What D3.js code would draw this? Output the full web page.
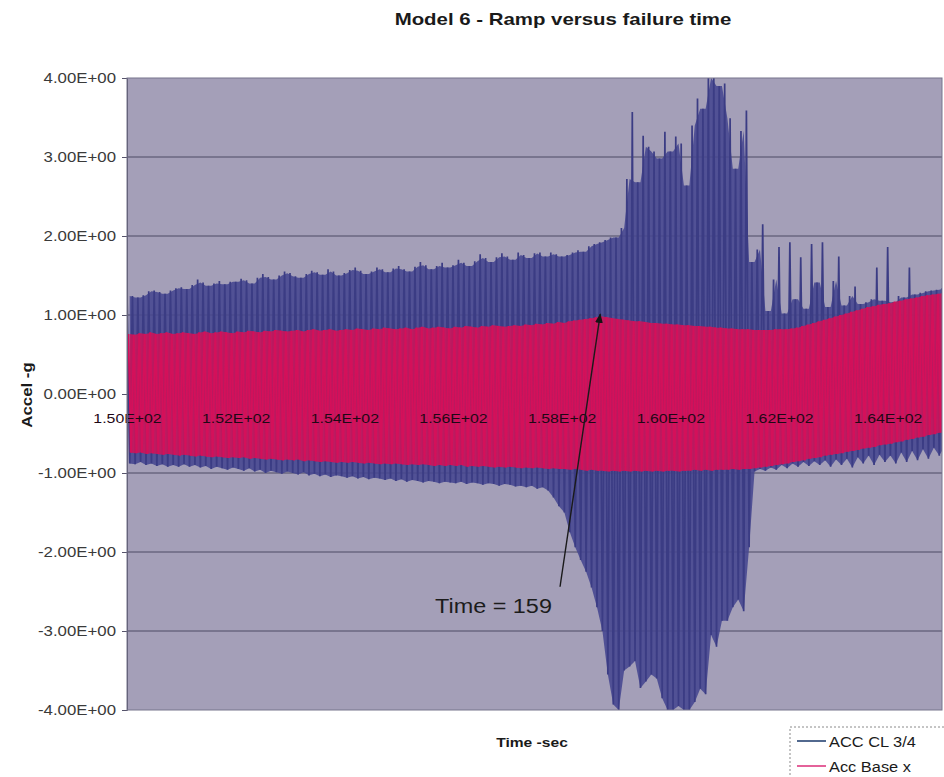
<!DOCTYPE html>
<html>
<head>
<meta charset="utf-8">
<script src="https://cdn.jsdelivr.net/npm/d3@7"></script>
<style>
    body { margin: 0; background: #fff; }
    svg { display: block; font-family: Arial, "Liberation Sans", sans-serif; }
    .x-label { fill: #1e0816; }
</style>
</head>
<body>
<svg id="chart" width="944" height="777"></svg>
<script>
// sampling grid of the recording (sec)
const t0 = 150;
const dt = 0.1;

// ACC CL 3/4 - positive and negative peak of each sample step (g)
const blueHi = [
    1.28, 1.24, 1.22, 1.25, 1.30, 1.31, 1.29, 1.27, 1.31, 1.34,
    1.35, 1.33, 1.38, 1.45, 1.41, 1.37, 1.40, 1.43, 1.39, 1.42,
    1.42, 1.46, 1.44, 1.40, 1.47, 1.52, 1.48, 1.45, 1.50, 1.55,
    1.53, 1.49, 1.47, 1.52, 1.56, 1.54, 1.51, 1.58, 1.55, 1.50,
    1.53, 1.57, 1.60, 1.56, 1.52, 1.55, 1.60, 1.58, 1.54, 1.59,
    1.62, 1.58, 1.55, 1.61, 1.67, 1.63, 1.58, 1.62, 1.66, 1.60,
    1.63, 1.70, 1.66, 1.62, 1.68, 1.77, 1.72, 1.67, 1.73, 1.78,
    1.74, 1.70, 1.79, 1.76, 1.72, 1.78, 1.79, 1.74, 1.79, 1.77,
    1.74, 1.76, 1.79, 1.82, 1.80, 1.87, 1.90, 1.92, 1.95, 1.98,
    1.98, 2.10, 2.72, 3.57, 2.68, 3.27, 3.13, 3.07, 2.98, 3.32,
    3.07, 3.26, 3.17, 2.64, 3.40, 3.74, 3.61, 4.00, 4.00, 3.90,
    3.93, 3.49, 2.85, 3.33, 3.59, 1.67, 1.83, 2.15, 1.05, 1.45,
    1.86, 1.02, 1.92, 1.20, 1.73, 1.08, 1.90, 1.41, 1.92, 1.10,
    1.43, 1.74, 1.12, 1.24, 1.36, 1.14, 1.16, 1.20, 1.60, 1.18,
    1.86, 1.16, 1.24, 1.22, 1.60, 1.26, 1.28, 1.30, 1.31, 1.32, 1.34
];
const blueLo = [
    -0.88, -0.89, -0.86, -0.90, -0.88, -0.91, -0.89, -0.92, -0.90, -0.92,
    -0.89, -0.92, -0.90, -0.93, -0.91, -0.95, -0.92, -0.94, -0.96, -0.93,
    -0.95, -0.97, -0.94, -0.98, -0.96, -1.00, -0.97, -0.99, -1.01, -0.98,
    -1.00, -1.02, -0.99, -1.03, -1.01, -1.04, -1.02, -1.05, -1.03, -1.04,
    -1.06, -1.04, -1.07, -1.05, -1.08, -1.06, -1.07, -1.09, -1.07, -1.10,
    -1.08, -1.11, -1.09, -1.10, -1.12, -1.10, -1.11, -1.13, -1.11, -1.12,
    -1.13, -1.11, -1.14, -1.12, -1.13, -1.15, -1.13, -1.14, -1.16, -1.14,
    -1.15, -1.17, -1.16, -1.18, -1.16, -1.20, -1.18, -1.22, -1.31, -1.42,
    -1.50, -1.75, -1.94, -2.10, -2.25, -2.45, -2.70, -3.00, -3.55, -3.93,
    -4.00, -3.50, -3.45, -3.38, -3.72, -3.64, -3.55, -3.60, -3.85, -4.00,
    -4.00, -3.95, -4.00, -4.00, -3.90, -3.73, -3.80, -3.05, -3.20, -2.87,
    -2.87, -2.70, -2.60, -2.75, -1.94, -0.98, -0.95, -0.97, -0.93, -0.96,
    -0.90, -0.94, -0.88, -0.92, -0.86, -0.91, -0.85, -0.90, -0.84, -0.92,
    -0.83, -0.90, -0.82, -0.93, -0.80, -0.88, -0.78, -0.90, -0.77, -0.86,
    -0.78, -0.88, -0.74, -0.86, -0.72, -0.84, -0.70, -0.82, -0.68, -0.78, -0.66
];

// Acc Base x - positive and negative peak of each sample step (g)
const pinkHi = [
    0.76, 0.75, 0.77, 0.76, 0.78, 0.76, 0.77, 0.78, 0.76, 0.77,
    0.78, 0.77, 0.76, 0.78, 0.79, 0.77, 0.78, 0.79, 0.78, 0.77,
    0.79, 0.78, 0.80, 0.79, 0.78, 0.80, 0.79, 0.81, 0.80, 0.79,
    0.80, 0.81, 0.79, 0.81, 0.82, 0.80, 0.81, 0.82, 0.80, 0.81,
    0.82, 0.81, 0.83, 0.82, 0.81, 0.83, 0.82, 0.84, 0.83, 0.82,
    0.83, 0.84, 0.82, 0.84, 0.85, 0.83, 0.84, 0.85, 0.84, 0.83,
    0.85, 0.84, 0.86, 0.85, 0.84, 0.86, 0.85, 0.87, 0.86, 0.85,
    0.86, 0.87, 0.86, 0.88, 0.87, 0.89, 0.88, 0.90, 0.89, 0.91,
    0.90, 0.92, 0.93, 0.94, 0.95, 0.96, 0.97, 0.98, 0.97, 0.96,
    0.95, 0.94, 0.93, 0.92, 0.92, 0.91, 0.90, 0.90, 0.89, 0.89,
    0.88, 0.88, 0.87, 0.87, 0.86, 0.86, 0.85, 0.85, 0.84, 0.84,
    0.83, 0.83, 0.82, 0.82, 0.82, 0.81, 0.81, 0.81, 0.81, 0.82,
    0.82, 0.82, 0.83, 0.84, 0.86, 0.88, 0.90, 0.92, 0.94, 0.96,
    0.98, 1.00, 1.02, 1.04, 1.06, 1.08, 1.10, 1.11, 1.13, 1.14,
    1.15, 1.17, 1.18, 1.20, 1.21, 1.22, 1.24, 1.25, 1.26, 1.27, 1.28
];
const pinkLo = [
    -0.74, -0.75, -0.74, -0.76, -0.75, -0.76, -0.77, -0.76, -0.77, -0.78,
    -0.77, -0.78, -0.79, -0.78, -0.79, -0.80, -0.79, -0.80, -0.81, -0.80,
    -0.81, -0.80, -0.82, -0.81, -0.82, -0.83, -0.82, -0.83, -0.84, -0.83,
    -0.84, -0.83, -0.85, -0.84, -0.85, -0.86, -0.85, -0.86, -0.87, -0.86,
    -0.87, -0.86, -0.87, -0.88, -0.87, -0.88, -0.89, -0.88, -0.89, -0.88,
    -0.89, -0.90, -0.89, -0.90, -0.89, -0.90, -0.91, -0.90, -0.91, -0.90,
    -0.91, -0.90, -0.92, -0.91, -0.92, -0.91, -0.92, -0.93, -0.92, -0.93,
    -0.92, -0.93, -0.94, -0.93, -0.94, -0.93, -0.94, -0.95, -0.94, -0.95,
    -0.95, -0.96, -0.95, -0.96, -0.97, -0.96, -0.97, -0.97, -0.98, -0.97,
    -0.98, -0.97, -0.98, -0.97, -0.98, -0.97, -0.98, -0.97, -0.98, -0.97,
    -0.97, -0.98, -0.97, -0.97, -0.96, -0.97, -0.96, -0.97, -0.96, -0.96,
    -0.96, -0.95, -0.96, -0.95, -0.95, -0.94, -0.93, -0.92, -0.91, -0.90,
    -0.89, -0.88, -0.86, -0.85, -0.84, -0.82, -0.81, -0.80, -0.78, -0.77,
    -0.76, -0.75, -0.73, -0.72, -0.71, -0.69, -0.68, -0.67, -0.65, -0.64,
    -0.63, -0.61, -0.60, -0.58, -0.57, -0.55, -0.54, -0.52, -0.51, -0.49, -0.48
];

const xTicks = [150, 152, 154, 156, 158, 160, 162, 164];
const yTicks = [-4, -3, -2, -1, 0, 1, 2, 3, 4];
const seriesNames = ["ACC CL 3/4", "Acc Base x"];

// annotation in data units: [time, accel]
const note = {label: "Time = 159", at: [155.67, -2.77], from: [157.97, -2.44], to: [158.71, 1.01]};

const margin = {top: 78, right: 2, bottom: 67, left: 127};
const width = 944 - margin.left - margin.right;
const height = 777 - margin.top - margin.bottom;
const textStretch = 1.2;

const blueColor = "#3b3c84";
const pinkColor = "#d4105a";

// excel style 1.50E+02
function sci(v) {
    if (v === 0) return "0.00E+00";
    let e = Math.floor(Math.log10(Math.abs(v)));
    let m = v / Math.pow(10, e);
    return m.toFixed(2) + "E" + (e < 0 ? "-" : "+") + String(Math.abs(e)).padStart(2, "0");
}

// the scanned chart is wider than normal type, so widen every label
function stretch(sel, k) {
    sel.each(function() {
        let w = this.getComputedTextLength();
        d3.select(this).attr("textLength", w * k).attr("lengthAdjust", "spacingAndGlyphs");
    });
}

const svg = d3.select("#chart");

svg.append("rect").attr("width", 944).attr("height", 777).attr("fill", "#fff");

const x = d3.scaleLinear().domain([150, 165]).range([0, width]);
const y = d3.scaleLinear().domain([-4, 4]).range([height, 0]);

const g = svg.append("g").attr("transform", `translate(${margin.left},${margin.top})`);

g.append("clipPath").attr("id", "plotClip")
    .append("rect").attr("width", width).attr("height", height);

// plot area
g.append("rect")
    .attr("width", width)
    .attr("height", height)
    .attr("fill", "#a49fb8");

// gridlines
g.append("g")
    .selectAll("line")
    .data(yTicks.filter(d => d > -4 && d < 4))
    .join("line")
    .attr("x1", 0)
    .attr("x2", width)
    .attr("y1", d => y(d))
    .attr("y2", d => y(d))
    .attr("stroke", "#4c4a64")
    .attr("stroke-width", 1);

const plot = g.append("g").attr("clip-path", "url(#plotClip)");

const zigzag = d3.line().x(d => x(d[0])).y(d => y(d[1]));

// each step: positive peak then negative peak
let bluePts = blueHi.flatMap((h, i) => [[t0 + i * dt, h], [t0 + (i + 0.5) * dt, blueLo[i]]]);
let pinkPts = pinkHi.flatMap((h, i) => [[t0 + (i + 0.25) * dt, h], [t0 + (i + 0.75) * dt, pinkLo[i]]]);

// the dense trace reads as a filled band: fill between neighbouring peaks
let blueBand = blueHi.map((h, i) => ({
    t: t0 + (i + 0.5) * dt,
    hi: Math.min(h, i + 1 < blueHi.length ? blueHi[i + 1] : h),
    lo: blueLo[i]
}));

plot.append("path")
    .datum(blueBand)
    .attr("d", d3.area().x(d => x(d.t)).y0(d => y(d.lo)).y1(d => y(d.hi)))
    .attr("fill", "#46478f")
    .attr("fill-opacity", 0.88);

plot.append("path")
    .datum(bluePts)
    .attr("d", zigzag)
    .attr("fill", "none")
    .attr("stroke", blueColor)
    .attr("stroke-width", 1.7)
    .attr("stroke-linejoin", "bevel");

plot.append("path")
    .datum(pinkHi.map((h, i) => ({t: t0 + (i + 0.5) * dt, hi: h, lo: pinkLo[i]})))
    .attr("d", d3.area().x(d => x(d.t)).y0(d => y(d.lo)).y1(d => y(d.hi)))
    .attr("fill", "#cf1458")
    .attr("fill-opacity", 0.86);

plot.append("path")
    .datum(pinkPts)
    .attr("d", zigzag)
    .attr("fill", "none")
    .attr("stroke", pinkColor)
    .attr("stroke-width", 1.8)
    .attr("stroke-linejoin", "bevel");

// x axis labels sit just under the zero line
let xAxis = g.append("g")
    .attr("transform", `translate(0,${y(0)})`)
    .call(d3.axisBottom(x).tickValues(xTicks).tickFormat(sci).tickSize(0).tickPadding(20));
xAxis.select(".domain").remove();
xAxis.selectAll("text")
    .attr("class", "x-label")
    .attr("fill", "#1e0816")
    .attr("font-size", 13)
    .attr("font-family", "Arial, 'Liberation Sans', sans-serif")
    .call(stretch, 1.22);

// y axis
let yAxis = g.append("g")
    .call(d3.axisLeft(y).tickValues(yTicks).tickFormat(sci).tickSize(5).tickPadding(6));
yAxis.select(".domain").attr("stroke", "#55536a");
yAxis.selectAll(".tick line").attr("stroke", "#55536a");
yAxis.selectAll("text")
    .attr("font-size", 14)
    .attr("font-family", "Arial, 'Liberation Sans', sans-serif")
    .attr("fill", "#3a3a3a")
    .call(stretch, textStretch);

// plot frame
g.append("rect")
    .attr("width", width)
    .attr("height", height)
    .attr("fill", "none")
    .attr("stroke", "#77748c")
    .attr("stroke-width", 1);

// annotation
svg.append("defs").append("marker")
    .attr("id", "arrowHead")
    .attr("viewBox", "0 0 10 10")
    .attr("refX", 9)
    .attr("refY", 5)
    .attr("markerWidth", 7)
    .attr("markerHeight", 7)
    .attr("orient", "auto")
    .append("path")
    .attr("d", "M0,1L10,5L0,9Z")
    .attr("fill", "#141414");

g.append("line")
    .attr("x1", x(note.from[0]))
    .attr("y1", y(note.from[1]))
    .attr("x2", x(note.to[0]))
    .attr("y2", y(note.to[1]))
    .attr("stroke", "#1a1a1a")
    .attr("stroke-width", 1.4)
    .attr("marker-end", "url(#arrowHead)");

g.append("text")
    .attr("x", x(note.at[0]))
    .attr("y", y(note.at[1]))
    .attr("font-size", 20)
    .attr("fill", "#1c1c1c")
    .text(note.label)
    .call(stretch, 1.17);

// title and axis titles
svg.append("text")
    .attr("x", 563)
    .attr("y", 25)
    .attr("text-anchor", "middle")
    .attr("font-size", 17)
    .attr("font-weight", "bold")
    .attr("fill", "#1a1a1a")
    .text("Model 6 - Ramp versus failure time")
    .call(stretch, textStretch);

svg.append("text")
    .attr("x", 532)
    .attr("y", 747)
    .attr("text-anchor", "middle")
    .attr("font-size", 13)
    .attr("font-weight", "bold")
    .attr("fill", "#1a1a1a")
    .text("Time -sec")
    .call(stretch, textStretch);

svg.append("text")
    .attr("transform", "translate(32,395) rotate(-90)")
    .attr("text-anchor", "middle")
    .attr("font-size", 14)
    .attr("font-weight", "bold")
    .attr("fill", "#1a1a1a")
    .text("Accel -g")
    .call(stretch, textStretch);

// legend
let legend = svg.append("g").attr("transform", "translate(790,727)");
legend.append("rect")
    .attr("width", 170)
    .attr("height", 62)
    .attr("fill", "#fff")
    .attr("stroke", "#8a8a8a")
    .attr("stroke-dasharray", "2,2");

let items = legend.selectAll(".item")
    .data(seriesNames)
    .join("g")
    .attr("class", "item")
    .attr("transform", (d, i) => `translate(0,${14 + i * 25})`);

items.append("line")
    .attr("x1", 7)
    .attr("x2", 36)
    .attr("stroke", (d, i) => i === 0 ? "#52698f" : "#e4629a")
    .attr("stroke-width", 2);

items.append("text")
    .attr("x", 39)
    .attr("y", 6)
    .attr("font-size", 14)
    .attr("fill", "#1a1a1a")
    .text(d => d)
    .call(stretch, 1.17);
</script>
</body>
</html>
